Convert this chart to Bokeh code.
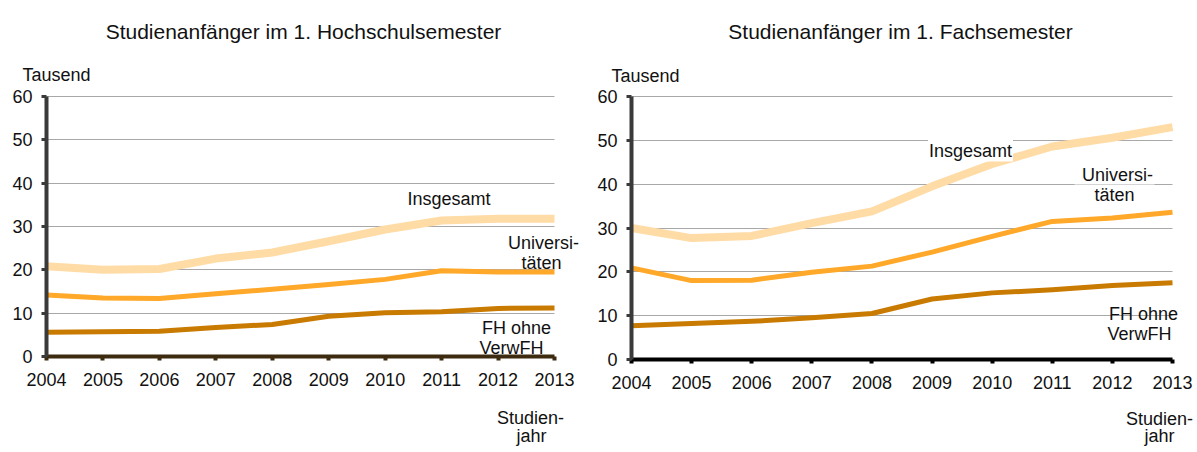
from bokeh.plotting import figure
from bokeh.models import Range1d, FixedTicker, Label, Grid
from bokeh.layouts import row
from bokeh.embed import file_html
from bokeh.resources import INLINE

years = [2004, 2005, 2006, 2007, 2008, 2009, 2010, 2011, 2012, 2013]
y_ticks = [0, 10, 20, 30, 40, 50, 60]

hs_insgesamt = [20.8, 20.0, 20.2, 22.6, 24.0, 26.6, 29.3, 31.4, 31.8, 31.8]
hs_uni = [14.2, 13.5, 13.4, 14.5, 15.5, 16.6, 17.8, 19.8, 19.5, 19.5]
hs_fh = [5.6, 5.7, 5.8, 6.7, 7.4, 9.3, 10.1, 10.3, 11.1, 11.2]

fs_insgesamt = [30.0, 27.7, 28.2, 31.1, 33.8, 39.5, 44.6, 48.6, 50.6, 53.0]
fs_uni = [20.9, 18.0, 18.1, 19.9, 21.3, 24.5, 28.1, 31.5, 32.3, 33.6]
fs_fh = [7.7, 8.2, 8.7, 9.5, 10.5, 13.8, 15.2, 15.9, 16.9, 17.5]

titles = ["Studienanfänger im 1. Hochschulsemester", "Studienanfänger im 1. Fachsemester"]

C_INS = "#FFDBA6"
C_UNI = "#FFA829"
C_FH = "#C97A00"
FONT = "Liberation Sans"
TXT = "#111111"
ORIGIN_Y = 1
HEIGHT = 446
HAS_CROSS = "cross_bounds" in Grid.properties()


def make_panel(fig_left, width, ax_px, x_end_px, y0_px, y60_px, ins, uni, fh, xaxis_color, labels):
    # page-pixel geometry of the plotting area -> data ranges
    xs = (x_end_px - ax_px) / 9.0
    ys = (y0_px - y60_px) / 60.0
    x_start = years[0] - (ax_px - fig_left) / xs
    x_stop = years[0] + (fig_left + width - ax_px) / xs
    y_bottom = -(ORIGIN_Y + HEIGHT - y0_px) / ys
    y_top = 60 + (y60_px - ORIGIN_Y) / ys

    p = figure(width=width, height=HEIGHT, output_backend="svg", toolbar_location=None,
               x_range=Range1d(x_start, x_stop), y_range=Range1d(y_bottom, y_top),
               min_border=0, min_border_left=0, min_border_right=0,
               min_border_top=0, min_border_bottom=0)
    p.outline_line_color = None
    p.xgrid.grid_line_color = None
    if HAS_CROSS:
        p.ygrid.ticker = FixedTicker(ticks=y_ticks[1:])
        p.ygrid.bounds = (0, 60)
        p.ygrid.cross_bounds = (years[0], years[-1])
        p.ygrid.grid_line_color = "#A8A8A8"
        p.ygrid.grid_line_width = 1
    else:
        p.ygrid.grid_line_color = None
        n = len(y_ticks) - 1
        p.segment(x0=[years[0]] * n, x1=[years[-1]] * n, y0=y_ticks[1:], y1=y_ticks[1:],
                  line_color="#A8A8A8", line_width=1)

    p.line(years, ins, line_color=C_INS, line_width=8, line_join="round")
    p.line(years, uni, line_color=C_UNI, line_width=5, line_join="round")
    p.line(years, fh, line_color=C_FH, line_width=5, line_join="round")

    ya = p.yaxis[0]
    ya.fixed_location = years[0]
    ya.bounds = (0, 60)
    ya.ticker = FixedTicker(ticks=y_ticks)
    ya.axis_line_width = 4
    ya.axis_line_color = "#3A3A3A"
    ya.major_tick_out = 5
    ya.major_tick_in = 0
    ya.major_tick_line_width = 3
    ya.major_tick_line_color = "#3A3A3A"
    ya.minor_tick_line_color = None
    ya.major_label_text_font = FONT
    ya.major_label_text_font_size = "18px"
    ya.major_label_text_color = TXT
    ya.major_label_standoff = 9

    xa = p.xaxis[0]
    xa.fixed_location = 0
    xa.bounds = (years[0], years[-1])
    xa.ticker = FixedTicker(ticks=years)
    xa.axis_line_width = 4
    xa.axis_line_color = xaxis_color
    xa.major_tick_out = 4
    xa.major_tick_in = 0
    xa.major_tick_line_width = 4
    xa.major_tick_line_color = xaxis_color
    xa.minor_tick_line_color = None
    xa.major_label_text_font = FONT
    xa.major_label_text_font_size = "18px"
    xa.major_label_text_color = TXT
    xa.major_label_standoff = 12

    for text, px, py, size, align, pad in labels:
        lab = Label(x=years[0] + (px - ax_px) / xs, y=(y0_px - py) / ys, text=text,
                    text_font=FONT, text_font_size=size, text_color=TXT,
                    text_align=align, text_baseline="alphabetic", text_line_height=1.1)
        if pad is not None:
            lab.background_fill_color = "white"
            lab.padding = pad
        p.add_layout(lab)
    return p


left_labels = [
    (titles[0], 304, 32, "21px", "center", None),
    ("Tausend", 23, 75.5, "18px", "left", None),
    ("Insgesamt", 449.5, 199, "18px", "center", None),
    ("Universi-", 544, 243, "18px", "center", None),
    ("täten", 542, 263, "18px", "center", None),
    ("FH ohne", 517, 328, "18px", "center", None),
    ("VerwFH", 512, 348, "18px", "center", None),
    ("Studien-", 531, 418, "18px", "center", None),
    ("jahr", 532, 436, "18px", "center", None),
]

right_labels = [
    (titles[1], 901, 31.5, "21px", "center", None),
    ("Tausend", 612, 76, "18px", "left", None),
    ("Insgesamt", 971, 151, "18px", "center", 1),
    ("Universi-", 1118, 175, "18px", "center", None),
    ("täten", 1115, 195, "18px", "center", dict(x=20, y=0)),
    ("FH ohne", 1144, 314, "18px", "center", None),
    ("VerwFH", 1140, 334, "18px", "center", None),
    ("Studien-", 1160, 419, "18px", "center", None),
    ("jahr", 1160, 436, "18px", "center", None),
]

p1 = make_panel(1, 592, 47, 555, 357, 97, hs_insgesamt, hs_uni, hs_fh, "#3D2B10", left_labels)
p2 = make_panel(593, 602, 632, 1173, 360, 97, fs_insgesamt, fs_uni, fs_fh, "#000000", right_labels)

layout = row(p1, p2)
open("out.html", "w").write(file_html(layout, INLINE))
